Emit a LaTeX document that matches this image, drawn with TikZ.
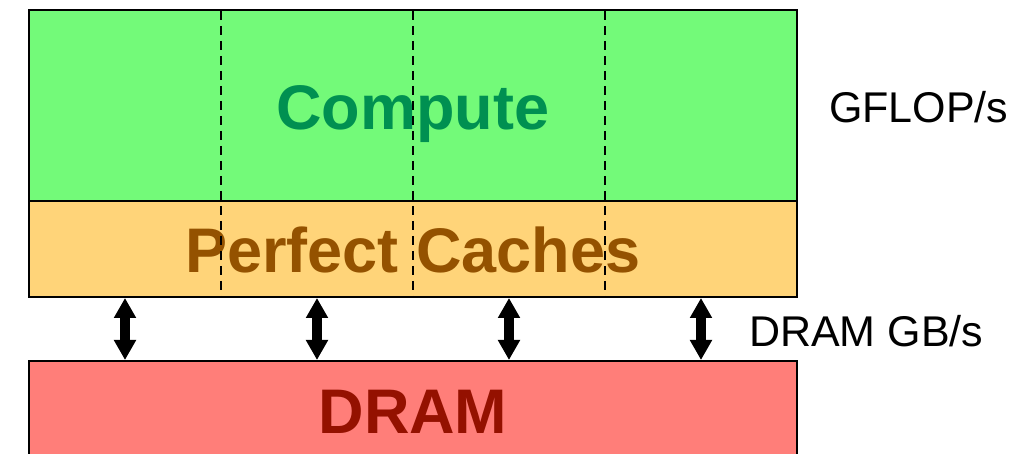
\documentclass[tikz,border=0pt]{standalone}
\usepackage{fontspec}
\setmainfont{Liberation Sans}
\usetikzlibrary{arrows.meta}
\definecolor{flora}{RGB}{115,250,121}
\definecolor{moss}{RGB}{0,144,81}
\definecolor{cantaloupe}{RGB}{255,212,121}
\definecolor{mocha}{RGB}{148,82,0}
\definecolor{salmon}{RGB}{255,126,121}
\definecolor{cayenne}{RGB}{148,17,0}
\tikzset{
  layer/.style={draw=black, line width=2.5pt, rectangle, inner sep=0pt, minimum width=768pt},
  bigtext/.style={font=\fontsize{63}{70}\selectfont\bfseries, anchor=base, inner sep=0pt},
  sidetext/.style={font=\fontsize{43}{48}\selectfont, anchor=base west, inner sep=0pt},
  divider/.style={draw=black, line width=2.2pt, dash pattern=on 9pt off 6pt},
  bus/.style={draw=black, line width=10pt, {Triangle[width=21pt,length=20pt]}-{Triangle[width=21pt,length=20pt]}}
}
\begin{document}
\begin{tikzpicture}[x=1pt,y=-1pt]
\useasboundingbox (0,0) rectangle (1034,454);
\clip (0,0) rectangle (1034,454);
% boxes
\node[layer, fill=flora, minimum height=191pt] (compute) at (413,105.5) {};
\node[layer, fill=cantaloupe, minimum height=96pt] (caches) at (413,249) {};
\node[layer, fill=salmon, minimum height=140pt] (dram) at (413,431) {};
% labels
\node[bigtext, text=moss] (computelbl) at (413,130) {Compute};
\node[bigtext, text=mocha] (cacheslbl) at (413,273) {Perfect Caches};
\node[bigtext, text=cayenne] (dramlbl) at (413,433) {DRAM};
\node[sidetext] (gflops) at (829,123) {GFLOP/s};
\node[sidetext] (dramgbs) at (749,347) {DRAM GB/s};
% dashed dividers
\foreach \i/\x in {1/221,2/413,3/605}{
  \coordinate (dt\i) at (\x,11);
  \coordinate (db\i) at (\x,296);
  \draw[divider] (dt\i) -- (db\i);
}
% bandwidth arrows
\foreach \i/\x in {1/125,2/317,3/509,4/701}{
  \coordinate (at\i) at (\x,298);
  \coordinate (ab\i) at (\x,360);
  \draw[bus] (at\i) -- (ab\i);
}
\end{tikzpicture}
\end{document}
